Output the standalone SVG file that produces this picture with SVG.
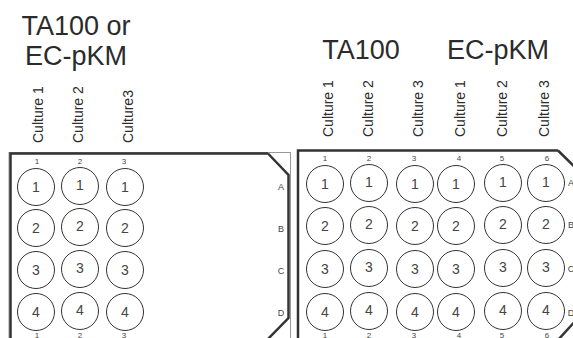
<svg xmlns="http://www.w3.org/2000/svg" width="573" height="338" viewBox="0 0 573 338">
<style>
.hdr{font-family:"Liberation Sans",Arial,sans-serif;font-size:27px;fill:#2b2b2b;text-anchor:middle}
.cul{font-family:"Liberation Sans",Arial,sans-serif;font-size:14px;fill:#2b2b2b}
.num{font-family:"Liberation Sans",Arial,sans-serif;font-size:8px;fill:#444;text-anchor:middle}
.row{font-family:"Liberation Sans",Arial,sans-serif;font-size:9px;fill:#444;text-anchor:middle}
.wn{font-family:"Liberation Sans",Arial,sans-serif;font-size:14px;fill:#444;text-anchor:middle}
.well{fill:#fff;stroke:#333;stroke-width:1}
.frame{fill:none;stroke:#333;stroke-width:2.5}
.outline{fill:none;stroke:#999;stroke-width:1}
</style>
<defs>
<circle id="w" r="18.5" class="well"/>
</defs>
<g id="headers">
<text class="hdr" x="76" y="35">TA100 or</text>
<text class="hdr" x="76" y="65">EC-pKM</text>
<text class="hdr" x="361" y="59">TA100</text>
<text class="hdr" x="498" y="59">EC-pKM</text>
</g>
<g id="culture-labels">
<text class="cul" transform="translate(43,143) rotate(-90)">Culture 1</text>
<text class="cul" transform="translate(83,143) rotate(-90)">Culture 2</text>
<text class="cul" transform="translate(133,143) rotate(-90)">Culture3</text>
<text class="cul" transform="translate(333,137) rotate(-90)">Culture 1</text>
<text class="cul" transform="translate(373,137) rotate(-90)">Culture 2</text>
<text class="cul" transform="translate(423,137) rotate(-90)">Culture 3</text>
<text class="cul" transform="translate(465,137) rotate(-90)">Culture 1</text>
<text class="cul" transform="translate(507,137) rotate(-90)">Culture 2</text>
<text class="cul" transform="translate(549,137) rotate(-90)">Culture 3</text>
</g>
<g id="plate-left">
<rect class="outline" x="9" y="152.5" width="281.5" height="200"/>
<path class="frame" d="M268,153.5 H10.5 V345 M268,153.5 L288.5,175 V318 L267,340"/>
<text class="num" x="37" y="164">1</text>
<text class="num" x="80" y="164">2</text>
<text class="num" x="124" y="164">3</text>
<text class="num" x="37" y="337.5">1</text>
<text class="num" x="80" y="337.5">2</text>
<text class="num" x="124" y="337.5">3</text>
<text class="row" x="281" y="190">A</text>
<text class="row" x="281" y="232">B</text>
<text class="row" x="281" y="274">C</text>
<text class="row" x="281" y="316">D</text>
<use href="#w" x="36" y="187"/><use href="#w" x="80" y="186"/><use href="#w" x="125" y="187"/>
<use href="#w" x="36" y="228"/><use href="#w" x="80" y="227"/><use href="#w" x="125" y="228"/>
<use href="#w" x="36" y="270"/><use href="#w" x="80" y="269"/><use href="#w" x="125" y="270"/>
<use href="#w" x="36" y="312"/><use href="#w" x="80" y="311"/><use href="#w" x="125" y="312"/>
<text class="wn" x="36" y="192">1</text><text class="wn" x="80" y="190">1</text><text class="wn" x="125" y="192">1</text>
<text class="wn" x="36" y="233">2</text><text class="wn" x="80" y="231">2</text><text class="wn" x="125" y="233">2</text>
<text class="wn" x="36" y="275">3</text><text class="wn" x="80" y="273">3</text><text class="wn" x="125" y="275">3</text>
<text class="wn" x="36" y="317">4</text><text class="wn" x="80" y="315">4</text><text class="wn" x="125" y="317">4</text>
</g>
<g id="plate-right">
<path class="frame" d="M558,150.5 H298 V345 M558,150.5 L580,172 M578,318 L558,340"/>
<text class="num" x="325" y="161">1</text>
<text class="num" x="369" y="161">2</text>
<text class="num" x="414" y="161">3</text>
<text class="num" x="459" y="161">4</text>
<text class="num" x="502" y="161">5</text>
<text class="num" x="547" y="161">6</text>
<text class="num" x="325" y="337.5">1</text>
<text class="num" x="369" y="337.5">2</text>
<text class="num" x="414" y="337.5">3</text>
<text class="num" x="459" y="337.5">4</text>
<text class="num" x="502" y="337.5">5</text>
<text class="num" x="547" y="337.5">6</text>
<text class="row" x="571" y="186">A</text>
<text class="row" x="571" y="228">B</text>
<text class="row" x="571" y="272">C</text>
<text class="row" x="571" y="316">D</text>
<use href="#w" x="325" y="184"/><use href="#w" x="369" y="183"/><use href="#w" x="415" y="184"/><use href="#w" x="456" y="184"/><use href="#w" x="503" y="183"/><use href="#w" x="546" y="183"/>
<use href="#w" x="325" y="226"/><use href="#w" x="369" y="225"/><use href="#w" x="415" y="226"/><use href="#w" x="456" y="226"/><use href="#w" x="503" y="225"/><use href="#w" x="546" y="225"/>
<use href="#w" x="325" y="269"/><use href="#w" x="369" y="268"/><use href="#w" x="415" y="269"/><use href="#w" x="456" y="269"/><use href="#w" x="503" y="268"/><use href="#w" x="546" y="268"/>
<use href="#w" x="325" y="312"/><use href="#w" x="369" y="311"/><use href="#w" x="415" y="312"/><use href="#w" x="456" y="312"/><use href="#w" x="503" y="311"/><use href="#w" x="546" y="311"/>
<text class="wn" x="325" y="189">1</text><text class="wn" x="369" y="187">1</text><text class="wn" x="415" y="189">1</text><text class="wn" x="456" y="189">1</text><text class="wn" x="503" y="187">1</text><text class="wn" x="546" y="187">1</text>
<text class="wn" x="325" y="231">2</text><text class="wn" x="369" y="229">2</text><text class="wn" x="415" y="231">2</text><text class="wn" x="456" y="231">2</text><text class="wn" x="503" y="229">2</text><text class="wn" x="546" y="229">2</text>
<text class="wn" x="325" y="274">3</text><text class="wn" x="369" y="272">3</text><text class="wn" x="415" y="274">3</text><text class="wn" x="456" y="274">3</text><text class="wn" x="503" y="272">3</text><text class="wn" x="546" y="272">3</text>
<text class="wn" x="325" y="317">4</text><text class="wn" x="369" y="315">4</text><text class="wn" x="415" y="317">4</text><text class="wn" x="456" y="317">4</text><text class="wn" x="503" y="315">4</text><text class="wn" x="546" y="315">4</text>
</g>
</svg>
